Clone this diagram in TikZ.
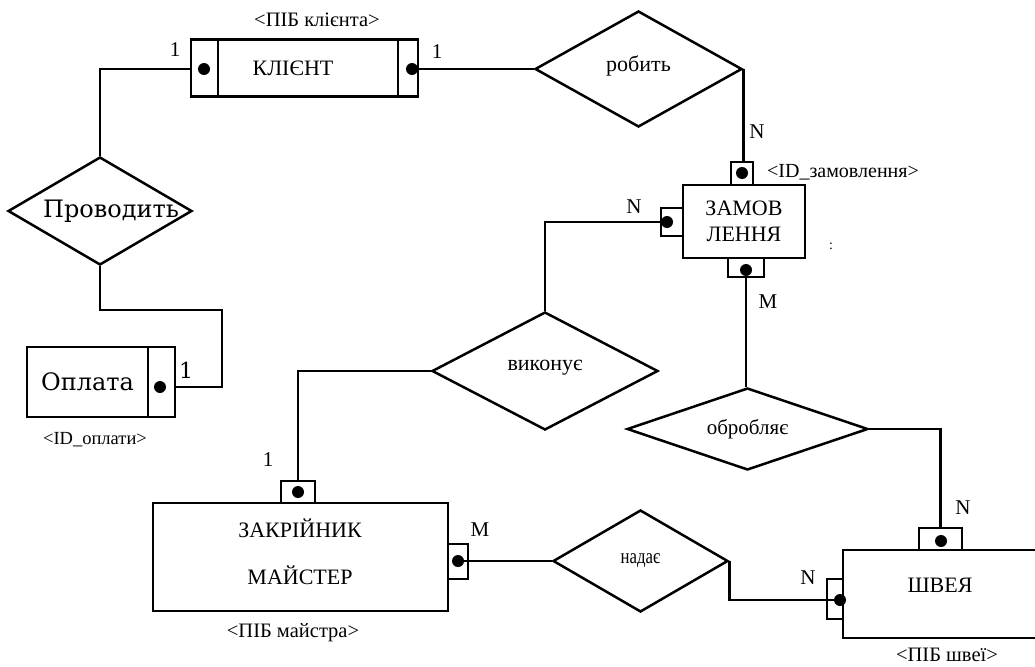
\documentclass[tikz,border=0pt]{standalone}
\usepackage{fontspec}
\setmainfont{Liberation Serif}
\newfontfamily\wideserif{DejaVu Serif}
\usetikzlibrary{shapes.geometric,positioning}

% relation text that does not widen the diamond
\newcommand{\reltext}[2][0pt]{\makebox[0pt]{\raisebox{#1}{#2}}}

\begin{document}
\begin{tikzpicture}[
    x=1pt, y=-1pt,
    ent/.style={rectangle, draw, line width=2.7pt, inner sep=0pt},
    keybox/.style={rectangle, draw, line width=2.5pt, inner sep=0pt},
    keydot/.style={circle, fill=black, inner sep=0pt, minimum size=12pt},
    rel/.style={diamond, draw, line width=2.5pt, inner sep=0pt},
    conn/.style={line width=2.5pt},
    etext/.style={font=\fontsize{22}{26}\selectfont, align=center},
    card/.style={font=\fontsize{21}{21}\selectfont},
    keylbl/.style={font=\fontsize{20.5}{20.5}\selectfont}
]
    \useasboundingbox (0,0) rectangle (1035,666);

    % Entities
    \node[ent, minimum width=180pt, minimum height=57pt] (klient) at (308,68) {};
    \node[keybox, minimum width=27pt, minimum height=57pt] (klientL) at (204.5,68) {};
    \node[keybox, minimum width=20pt, minimum height=57pt] (klientR) at (408,68) {};
    \node[etext] (klientname) at (293,68) {КЛІЄНТ};
    \node[keydot] (klientLdot) at (204,69) {};
    \node[keydot] (klientRdot) at (412,69) {};

    \node[ent, minimum width=121pt, minimum height=70pt, font=\wideserif\fontsize{24}{24}\selectfont] (oplata) at (87.5,382) {Оплата};
    \node[keybox, minimum width=27pt, minimum height=70pt] (oplataK) at (161.5,382) {};
    \node[keydot] (oplatadot) at (160,387) {};

    \node[ent, etext, minimum width=122pt, minimum height=73pt] (zam) at (744,221.5) {ЗАМОВ\\ЛЕННЯ};
    \node[keybox, minimum width=22pt, minimum height=23pt] (zamT) at (742,173.5) {};
    \node[keydot] (zamTdot) at (742,173) {};
    \node[keybox, minimum width=22pt, minimum height=28pt] (zamL) at (672,222) {};
    \node[keydot] (zamLdot) at (667,222) {};
    \node[keybox, minimum width=36pt, minimum height=19pt] (zamB) at (746,267.5) {};
    \node[keydot] (zamBdot) at (746,270) {};

    \node[ent, minimum width=295pt, minimum height=108pt] (master) at (300.5,557) {};
    \node[etext, font=\fontsize{22}{47}\selectfont] (mastername) at (300,551.5) {ЗАКРІЙНИК\\МАЙСТЕР};
    \node[keybox, minimum width=34pt, minimum height=22pt] (masterT) at (298,492) {};
    \node[keydot] (masterTdot) at (298,492) {};
    \node[keybox, minimum width=20pt, minimum height=35pt] (masterR) at (458,561.5) {};
    \node[keydot] (masterRdot) at (458,561) {};

    \node[ent, minimum width=230pt, minimum height=88pt] (shveya) at (958,594) {};
    \node[etext] (shveyaname) at (940,585) {ШВЕЯ};
    \node[keybox, minimum width=43pt, minimum height=22pt] (shvT) at (940.5,539) {};
    \node[keydot] (shvTdot) at (941,541) {};
    \node[keybox, minimum width=16pt, minimum height=40pt] (shvL) at (835,599) {};
    \node[keydot] (shvLdot) at (840,600) {};

    % Relationships
    \node[rel, minimum width=184pt, minimum height=108pt, font=\wideserif\fontsize{24}{24}\selectfont] (provodyt) at (100,211) {\reltext{\hspace{22pt}Проводить}};
    \node[rel, minimum width=207pt, minimum height=116pt, font=\fontsize{22}{22}\selectfont] (robyt) at (638.5,69) {\reltext[11pt]{робить}};
    \node[rel, minimum width=226pt, minimum height=118pt, font=\fontsize{22}{22}\selectfont] (vykon) at (545,371) {\reltext[11pt]{виконує}};
    \node[rel, minimum width=241pt, minimum height=82pt, font=\fontsize{21}{21}\selectfont] (obrob) at (747.5,429) {\reltext{обробляє}};
    \node[rel, minimum width=175pt, minimum height=102pt, font=\fontsize{21}{21}\selectfont] (nadaye) at (640.5,561) {\reltext{\scalebox{0.8}[1]{надає}}};

    % Connectors
    \coordinate (bendA) at (222,310);
    \draw[conn] (klientL.west |- klientLdot) -| (provodyt.north);
    \draw[conn] (provodyt.south) |- (bendA) |- (oplataK.east |- oplatadot);
    \draw[conn] (klientRdot) -- (robyt.west);
    \draw[conn] (robyt.east) -- (robyt.east |- zamT.north);
    \draw[conn] (vykon.north) |- (zamLdot);
    \draw[conn] (vykon.west) -| (masterT.north);
    \draw[conn] (zamBdot) -- (zamBdot |- obrob.north);
    \draw[conn] (obrob.east) -| (shvT.north);
    \draw[conn] (masterRdot) -- (nadaye.west);
    \draw[conn] (nadaye.east) |- (shvLdot);

    % Cardinalities
    \node[card] (cKL) at (175,50) {1};
    \node[card] (cKR) at (437,52) {1};
    \node[card] (cZT) at (757,132) {N};
    \node[card] (cZL) at (634,207) {N};
    \node[card] (cZB) at (768,302) {M};
    \node[card] (cMT) at (268,460) {1};
    \node[card] (cMR) at (480,530) {M};
    \node[card] (cST) at (963,508) {N};
    \node[card] (cSL) at (808,578) {N};
    \node[card, font=\wideserif\fontsize{22}{22}\selectfont] (cOP) at (186,370) {1};

    % Keys
    \node[keylbl] (kKlient) at (317,20) {<ПІБ клієнта>};
    \node[keylbl, font=\fontsize{20}{20}\selectfont] (kZam) at (843,172) {<ID\_замовлення>};
    \node[keylbl, font=\fontsize{18.5}{18.5}\selectfont] (kOplata) at (95,440) {<ID\_оплати>};
    \node[keylbl] (kMaster) at (293,633) {<ПІБ майстра>};
    \node[keylbl] (kShveya) at (947,655) {<ПІБ швеї>};
    \node[font=\fontsize{14}{14}\selectfont] (colon) at (831,246) {:};
\end{tikzpicture}
\end{document}
